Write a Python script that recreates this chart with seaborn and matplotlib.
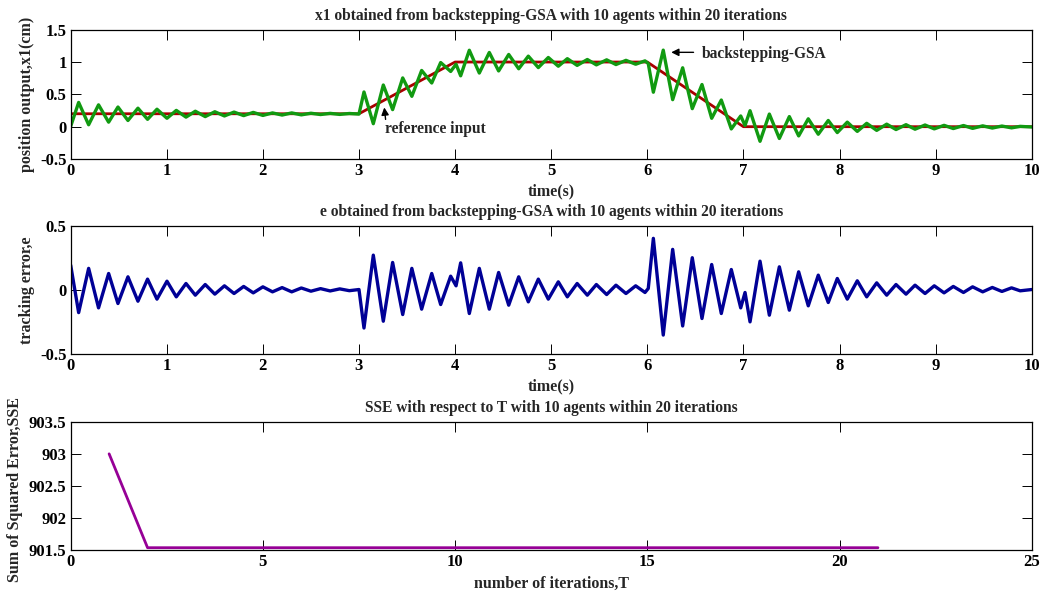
import numpy as np
import matplotlib
matplotlib.use("Agg")
import matplotlib.pyplot as plt
import seaborn as sns

# ---------------- data ----------------
# reference input breakpoints (time, value)
ref_t = [0.0, 3.0, 4.0, 6.0, 7.0, 10.0]
ref_v = [0.2, 0.2, 1.0, 1.0, 0.0, 0.0]

# tracking error e (extrema)
e_t = [0.0, 0.083, 0.187, 0.29, 0.395, 0.492, 0.596, 0.70, 0.80, 0.898,
       1.002, 1.099, 1.20, 1.297, 1.40, 1.50, 1.60, 1.70, 1.80, 1.90,
       2.00, 2.10, 2.20, 2.30, 2.40, 2.50, 2.60, 2.70, 2.80, 2.90,
       3.00,
       3.052, 3.149, 3.253, 3.35, 3.455, 3.55, 3.652, 3.757, 3.85, 3.954,
       4.01, 4.058, 4.148, 4.252, 4.356, 4.453, 4.558, 4.662, 4.762, 4.866,
       4.97, 5.074, 5.168, 5.27, 5.376, 5.47, 5.577, 5.674, 5.778, 5.879,
       5.976, 6.01,
       6.063, 6.166, 6.264, 6.368, 6.468, 6.569, 6.67, 6.77, 6.874, 6.972,
       7.017, 7.069, 7.173, 7.27, 7.374, 7.478, 7.575, 7.675, 7.779, 7.883,
       7.977, 8.081, 8.185, 8.283, 8.387, 8.491, 8.588, 8.692, 8.786, 8.89,
       8.986, 9.088, 9.184, 9.29, 9.385, 9.49, 9.59, 9.69, 9.79, 9.88,
       10.0]
e_v = [0.195, -0.175, 0.17, -0.138, 0.13, -0.104, 0.104, -0.086, 0.086, -0.07,
       0.07, -0.052, 0.052, -0.039, 0.044, -0.031, 0.034, -0.026, 0.029, -0.021,
       0.026, -0.013, 0.02, -0.013, 0.017, -0.008, 0.012, -0.006, 0.01, -0.004,
       0.005,
       -0.295, 0.273, -0.242, 0.216, -0.19, 0.17, -0.148, 0.13, -0.112, 0.109,
       0.034, 0.213, -0.182, 0.17, -0.148, 0.138, -0.117, 0.104, -0.091, 0.086,
       -0.07, 0.065, -0.052, 0.052, -0.039, 0.044, -0.034, 0.039, -0.026, 0.034,
       -0.018, 0.013,
       0.404, -0.35, 0.318, -0.279, 0.253, -0.221, 0.2, -0.182, 0.161, -0.138,
       -0.018, -0.247, 0.226, -0.195, 0.182, -0.156, 0.143, -0.122, 0.117, -0.096,
       0.091, -0.07, 0.073, -0.052, 0.057, -0.039, 0.044, -0.031, 0.039, -0.026,
       0.034, -0.021, 0.029, -0.018, 0.026, -0.013, 0.021, -0.01, 0.018, -0.005,
       0.005]

# SSE per iteration
sse_T = list(range(1, 22))
sse_v = [903.0] + [901.54] * 20

# tick labels
x1_yticks = [-0.5, 0, 0.5, 1, 1.5]
x1_yticklabels = ["-0.5", "0", "0.5", "1", "1.5"]
e_yticks = [-0.5, 0, 0.5]
e_yticklabels = ["-0.5", "0", "0.5"]
t_ticks = list(range(0, 11))
sse_yticks = [901.5, 902, 902.5, 903, 903.5]
sse_yticklabels = ["901.5", "902", "902.5", "903", "903.5"]
sse_xticks = [0, 5, 10, 15, 20, 25]

titles = ["x1 obtained from backstepping-GSA with 10 agents within 20 iterations",
          "e obtained from backstepping-GSA with 10 agents within 20 iterations",
          "SSE with respect to T with 10 agents within 20 iterations"]

# position output x1 = reference - e
x1_v = list(np.interp(e_t, ref_t, ref_v) - np.array(e_v))

# ---------------- style ----------------
sns.set_theme(style="ticks")
plt.rcParams["font.family"] = ["Liberation Serif", "DejaVu Serif"]
plt.rcParams["font.weight"] = "bold"
plt.rcParams["axes.labelweight"] = "bold"
plt.rcParams["axes.titleweight"] = "bold"

FS_TITLE = 11.2
FS_TICK = 12
FS_LABEL = 11.5
FS_ANN = 11.2

GREEN = "#119a11"
RED = "#a80000"
BLUE = "#000096"
PURPLE = "#960096"

fig = plt.figure(figsize=(10.47, 5.94), dpi=100)
ax1 = fig.add_axes([0.0675, 0.7323, 0.9179, 0.2177])
ax2 = fig.add_axes([0.0675, 0.4035, 0.9179, 0.2160])
ax3 = fig.add_axes([0.0675, 0.0736, 0.9179, 0.2165])


def style(ax):
    for s in ax.spines.values():
        s.set_visible(True)
        s.set_color("black")
        s.set_linewidth(0.9)
    ax.tick_params(direction="in", length=7, width=0.7, top=True, right=True,
                   labelsize=FS_TICK, colors="black", pad=3)
    for lab in ax.get_xticklabels() + ax.get_yticklabels():
        lab.set_fontweight("bold")


# top panel
sns.lineplot(x=ref_t, y=ref_v, ax=ax1, color=RED, linewidth=2.0)
sns.lineplot(x=e_t, y=x1_v, ax=ax1, color=GREEN, linewidth=2.4)
for ln in ax1.lines:
    ln.set_solid_joinstyle("round")
ax1.set_xlim(0, 10)
ax1.set_ylim(-0.5, 1.5)
ax1.set_xticks(t_ticks)
ax1.set_xticklabels([str(v) for v in t_ticks])
ax1.set_yticks(x1_yticks)
ax1.set_yticklabels(x1_yticklabels)
ax1.set_title(titles[0], fontsize=FS_TITLE, fontweight="bold", pad=7)
ax1.set_xlabel("time(s)", fontsize=FS_LABEL, fontweight="bold")
ax1.set_ylabel("position output,x1(cm)", fontsize=FS_LABEL, fontweight="bold")
ax1.xaxis.set_label_coords(0.5, -0.19)
ax1.yaxis.set_label_coords(-0.037, 0.5)
ax1.annotate("", xy=(3.26, 0.34), xytext=(3.28, 0.07),
             arrowprops=dict(arrowstyle="-|>", color="black", lw=1.0, mutation_scale=11))
ax1.text(3.27, -0.03, "reference input", fontsize=FS_ANN, fontweight="bold",
         ha="left", va="center")
ax1.annotate("", xy=(6.22, 1.15), xytext=(6.51, 1.15),
             arrowprops=dict(arrowstyle="-|>", color="black", lw=1.0, mutation_scale=11))
ax1.text(6.57, 1.13, "backstepping-GSA", fontsize=FS_ANN, fontweight="bold",
         ha="left", va="center")
style(ax1)

# middle panel
sns.lineplot(x=e_t, y=e_v, ax=ax2, color=BLUE, linewidth=2.4)
for ln in ax2.lines:
    ln.set_solid_joinstyle("round")
ax2.set_xlim(0, 10)
ax2.set_ylim(-0.5, 0.5)
ax2.set_xticks(t_ticks)
ax2.set_xticklabels([str(v) for v in t_ticks])
ax2.set_yticks(e_yticks)
ax2.set_yticklabels(e_yticklabels)
ax2.set_title(titles[1], fontsize=FS_TITLE, fontweight="bold", pad=7)
ax2.set_xlabel("time(s)", fontsize=FS_LABEL, fontweight="bold")
ax2.set_ylabel("tracking error,e", fontsize=FS_LABEL, fontweight="bold")
ax2.xaxis.set_label_coords(0.5, -0.19)
ax2.yaxis.set_label_coords(-0.037, 0.5)
style(ax2)

# bottom panel
sns.lineplot(x=sse_T, y=sse_v, ax=ax3, color=PURPLE, linewidth=2.0)
ax3.set_xlim(0, 25)
ax3.set_ylim(901.5, 903.5)
ax3.set_xticks(sse_xticks)
ax3.set_xticklabels([str(v) for v in sse_xticks])
ax3.set_yticks(sse_yticks)
ax3.set_yticklabels(sse_yticklabels)
ax3.set_title(titles[2], fontsize=FS_TITLE, fontweight="bold", pad=7)
ax3.set_xlabel("number of iterations,T", fontsize=FS_LABEL, fontweight="bold")
ax3.set_ylabel("Sum of Squared Error,SSE", fontsize=FS_LABEL, fontweight="bold")
ax3.xaxis.set_label_coords(0.5, -0.2)
ax3.yaxis.set_label_coords(-0.0496, 0.47)
style(ax3)

fig.savefig("out.png", dpi=100)
